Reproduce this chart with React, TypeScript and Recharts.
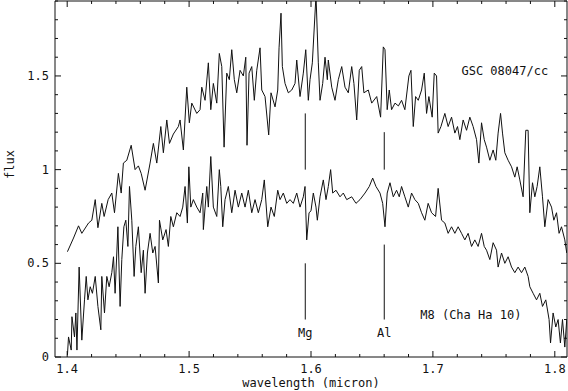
import React from "react";
import { LineChart, Line, XAxis, YAxis, ReferenceLine, ReferenceDot } from "recharts";

// GSC 08047/cc (upper spectrum)
const gscWave = [
  1.4002, 1.4052, 1.4093, 1.412, 1.4175, 1.4202, 1.423, 1.4252, 1.4284, 1.4303, 1.4336, 1.4366, 1.4388, 1.442,
  1.4443, 1.4461, 1.4489, 1.4525, 1.4557, 1.4584, 1.4607, 1.4639, 1.468, 1.4707, 1.4735, 1.4768, 1.4789, 1.4817,
  1.4839, 1.4871, 1.4912, 1.4926, 1.4953, 1.4981, 1.5002, 1.5022, 1.5063, 1.509, 1.5104, 1.5131, 1.5158, 1.5178,
  1.5199, 1.5227, 1.5248, 1.5268, 1.5287, 1.5309, 1.533, 1.535, 1.5371, 1.5391, 1.5418, 1.5445, 1.5465, 1.5475,
  1.5492, 1.5514, 1.5535, 1.5555, 1.5582, 1.5596, 1.5623, 1.5653, 1.5672, 1.5705, 1.5727, 1.5738, 1.5754, 1.5765,
  1.5787, 1.5814, 1.5842, 1.5869, 1.5883, 1.591, 1.5937, 1.5957, 1.5978, 1.5992, 1.6011, 1.6041, 1.606, 1.6074,
  1.6096, 1.6115, 1.6134, 1.6142, 1.617, 1.6197, 1.6224, 1.6252, 1.6279, 1.6306, 1.6334, 1.6352, 1.6375, 1.6396,
  1.6416, 1.6434, 1.647, 1.6498, 1.6539, 1.6571, 1.6593, 1.6607, 1.6625, 1.6642, 1.6661, 1.6689, 1.6717, 1.6743,
  1.677, 1.6803, 1.682, 1.6839, 1.6858, 1.688, 1.6907, 1.6929, 1.6948, 1.6967, 1.6994, 1.7011, 1.703, 1.7043,
  1.7066, 1.7098, 1.7125, 1.7153, 1.718, 1.7202, 1.7221, 1.7248, 1.7276, 1.7303, 1.733, 1.7358, 1.7377, 1.7399,
  1.7421, 1.744, 1.7467, 1.7494, 1.7516, 1.7535, 1.7555, 1.7571, 1.759, 1.7617, 1.7645, 1.7672, 1.7691, 1.7713,
  1.774, 1.7762, 1.7781, 1.7795, 1.7817, 1.7836, 1.7855, 1.7877, 1.7899, 1.7918, 1.7945, 1.7973, 1.7992, 1.8014,
  1.8035, 1.8055, 1.8082, 1.8098,
];
const gscFlux = [
  0.562, 0.635, 0.7, 0.66, 0.715, 0.73, 0.84, 0.69, 0.82, 0.75, 0.84, 0.875, 0.77, 0.98,
  0.875, 1.035, 1.05, 1.13, 1.0, 1.02, 0.98, 0.89, 1.035, 1.14, 1.035, 1.23, 1.09, 1.265,
  1.14, 1.19, 1.23, 1.265, 1.105, 1.44, 1.25, 1.355, 1.3, 1.32, 1.44, 1.37, 1.57, 1.32,
  1.46, 1.355, 1.62, 1.55, 1.12, 1.515, 1.48, 1.64, 1.48, 1.41, 1.53, 1.5, 1.6, 1.13,
  1.515, 1.55, 1.37, 1.53, 1.65, 1.425, 1.39, 1.185, 1.41, 1.335, 1.425, 1.65, 1.835, 1.55,
  1.46, 1.41, 1.425, 1.46, 1.585, 1.39, 1.515, 1.64, 1.37, 1.48, 1.57, 1.93, 1.57, 1.37,
  1.46, 1.6, 1.48, 1.585, 1.44, 1.37, 1.48, 1.55, 1.44, 1.41, 1.55, 1.46, 1.265, 1.53,
  1.55, 1.41, 1.425, 1.355, 1.39, 1.28, 1.655, 1.64, 1.32, 1.425, 1.32, 1.355, 1.34, 1.37,
  1.32, 1.5, 1.53, 1.23, 1.39, 1.37, 1.425, 1.515, 1.3, 1.39, 1.28, 1.515, 1.5, 1.195,
  1.23, 1.3, 1.23, 1.28, 1.195, 1.23, 1.16, 1.265, 1.21, 1.28, 1.23, 1.16, 1.035, 1.25,
  1.16, 1.12, 1.05, 1.105, 1.05, 1.195, 1.3, 1.195, 1.09, 1.05, 1.015, 0.96, 1.015, 0.945,
  0.855, 1.21, 1.21, 0.77, 0.93, 0.855, 0.91, 1.015, 0.855, 0.695, 0.84, 0.8, 0.73, 0.77,
  0.66, 0.695, 0.625, 0.555,
];

// M8 (Cha Ha 10) (lower spectrum)
const chaWave = [
  1.4002, 1.4011, 1.4033, 1.4039, 1.406, 1.4071, 1.408, 1.4098, 1.412, 1.4142, 1.4156, 1.417, 1.4189, 1.4207,
  1.423, 1.4252, 1.4276, 1.4284, 1.4306, 1.4325, 1.4344, 1.4366, 1.438, 1.4393, 1.4416, 1.4434, 1.4448, 1.4465,
  1.4481, 1.4498, 1.4511, 1.453, 1.4549, 1.4563, 1.4584, 1.4607, 1.4625, 1.4639, 1.4658, 1.468, 1.4702, 1.4721,
  1.4748, 1.4757, 1.4784, 1.4811, 1.483, 1.485, 1.4871, 1.4899, 1.4926, 1.4948, 1.4967, 1.4986, 1.4998, 1.5014,
  1.5035, 1.5063, 1.509, 1.5112, 1.5117, 1.5145, 1.5158, 1.5178, 1.5199, 1.5227, 1.5248, 1.526, 1.5276, 1.5295,
  1.5322, 1.535, 1.5377, 1.5404, 1.5432, 1.5459, 1.5486, 1.5514, 1.5541, 1.5568, 1.5596, 1.5617, 1.5645, 1.5672,
  1.5699, 1.5727, 1.5746, 1.5773, 1.5801, 1.5828, 1.5855, 1.5883, 1.591, 1.5937, 1.5951, 1.5965, 1.5984, 1.6,
  1.6019, 1.6041, 1.6052, 1.6074, 1.6101, 1.6123, 1.6142, 1.6161, 1.6178, 1.6205, 1.6238, 1.6265, 1.6293, 1.6334,
  1.6369, 1.6402, 1.6443, 1.6478, 1.6506, 1.6533, 1.6566, 1.6588, 1.6607, 1.6625, 1.6648, 1.6675, 1.6702, 1.6724,
  1.6743, 1.677, 1.6798, 1.6825, 1.6852, 1.688, 1.6907, 1.6934, 1.6961, 1.6989, 1.7022, 1.7043, 1.7071, 1.7098,
  1.7125, 1.7153, 1.718, 1.7207, 1.7235, 1.7262, 1.7289, 1.7317, 1.7344, 1.7371, 1.7399, 1.7421, 1.744, 1.7467,
  1.7494, 1.7522, 1.7535, 1.7563, 1.759, 1.7617, 1.7645, 1.7672, 1.7699, 1.7727, 1.7754, 1.7781, 1.7795, 1.7822,
  1.785, 1.7877, 1.7899, 1.7926, 1.7953, 1.7965, 1.7986, 1.8008, 1.8027, 1.8046, 1.8063, 1.8082, 1.8098,
];
const chaFlux = [
  0.01, 0.107, 0.037, 0.215, 0.107, 0.235, 0.037, 0.48, 0.09, 0.305, 0.43, 0.305, 0.375, 0.34,
  0.43, 0.27, 0.145, 0.43, 0.235, 0.43, 0.375, 0.45, 0.535, 0.34, 0.695, 0.27, 0.52, 0.695,
  0.73, 0.59, 0.91, 0.73, 0.43, 0.59, 0.695, 0.45, 0.57, 0.34, 0.555, 0.66, 0.555, 0.59,
  0.395, 0.73, 0.625, 0.68, 0.59, 0.75, 0.695, 0.77, 0.75, 0.8, 0.91, 0.715, 1.015, 0.8,
  0.84, 0.8, 0.77, 0.875, 0.68, 0.91, 0.8, 1.07, 0.8, 0.75, 1.0, 0.91, 0.695, 0.84,
  0.91, 0.77, 0.89, 0.8, 0.875, 0.8, 0.89, 0.77, 0.84, 0.77, 0.84, 0.945, 0.695, 0.8,
  0.75, 0.89, 0.84, 0.875, 0.82, 0.84, 0.82, 0.875, 0.8, 0.855, 0.91, 0.625, 0.77, 0.78,
  0.875, 0.8, 0.73, 0.855, 0.945, 0.84, 0.91, 1.0, 0.875, 0.89, 0.855, 0.875, 0.84, 0.855,
  0.82, 0.84, 0.875, 0.91, 0.955, 0.91, 0.875, 0.82, 0.695, 0.875, 0.93, 0.855, 0.89, 0.855,
  0.91, 0.855, 0.8, 0.875, 0.84, 0.82, 0.77, 0.73, 0.82, 0.77, 0.75, 0.9, 0.73, 0.715,
  0.66, 0.695, 0.66, 0.695, 0.66, 0.625, 0.66, 0.59, 0.625, 0.59, 0.66, 0.59, 0.57, 0.52,
  0.61, 0.57, 0.48, 0.555, 0.5, 0.535, 0.48, 0.45, 0.48, 0.45, 0.48, 0.43, 0.375, 0.34,
  0.305, 0.34, 0.27, 0.305, 0.2, 0.075, 0.235, 0.16, 0.2, 0.075, 0.2, 0.053, 0.2,
];

const xTicks = [
  1.4, 1.42, 1.44, 1.46, 1.48, 1.5, 1.52, 1.54, 1.56, 1.58, 1.6, 1.62, 1.64, 1.66, 1.68, 1.7, 1.72, 1.74, 1.76,
  1.78, 1.8,
];
const yTicks = [0, 0.1, 0.2, 0.3, 0.4, 0.5, 0.6, 0.7, 0.8, 0.9, 1, 1.1, 1.2, 1.3, 1.4, 1.5, 1.6, 1.7, 1.8, 1.9];

const lineMarks = [
  { name: "Mg", wave: 1.5953, upper: [1.3, 1.0], lower: [0.5, 0.2] },
  { name: "Al", wave: 1.6601, upper: [1.2, 1.0], lower: [0.6, 0.2] },
];

const gscData = gscWave.map((w, i) => ({ wave: w, flux: gscFlux[i] }));
const chaData = chaWave.map((w, i) => ({ wave: w, flux: chaFlux[i] }));

const FONT = "'DejaVu Sans Mono', monospace";
const INK = "#111";

const isMajorX = (v: number) => Math.abs(v * 10 - Math.round(v * 10)) < 1e-6;
const isMajorY = (v: number) => Math.abs(v * 2 - Math.round(v * 2)) < 1e-6;

// ticks point into the frame, as in the original plot
const BottomTick = (props: any) => {
  const x = Number(props.x);
  const y = Number(props.y);
  const major = isMajorX(props.payload.value);
  return (
    <g>
      <path d={`M${x},${y}V${y - (major ? 6 : 3)}`} stroke={INK} strokeWidth={1} fill="none" />
      {major && (
        <text x={x} y={y + 16} textAnchor="middle" fontFamily={FONT} fontSize={12} fill={INK}>
          {props.payload.value.toFixed(1)}
        </text>
      )}
    </g>
  );
};

const TopTick = (props: any) => {
  const x = Number(props.x);
  const y = Number(props.y);
  const major = isMajorX(props.payload.value);
  return <path d={`M${x},${y}V${y + (major ? 6 : 3)}`} stroke={INK} strokeWidth={1} fill="none" />;
};

const LeftTick = (props: any) => {
  const x = Number(props.x);
  const y = Number(props.y);
  const v = props.payload.value;
  const major = isMajorY(v);
  return (
    <g>
      <path d={`M${x},${y}H${x + (major ? 6 : 3)}`} stroke={INK} strokeWidth={1} fill="none" />
      {major && (
        <text x={x - 6} y={y + 4} textAnchor="end" fontFamily={FONT} fontSize={12} fill={INK}>
          {String(v)}
        </text>
      )}
    </g>
  );
};

const RightTick = (props: any) => {
  const x = Number(props.x);
  const y = Number(props.y);
  const major = isMajorY(props.payload.value);
  return <path d={`M${x},${y}H${x - (major ? 6 : 3)}`} stroke={INK} strokeWidth={1} fill="none" />;
};

const textLabel = (value: string) => ({
  value,
  position: "center" as const,
  fontFamily: FONT,
  fontSize: 12,
  fill: INK,
});

export default function App() {
  return (
    <div style={{ position: "absolute", left: 0, top: 0, background: "#fff" }}>
      <LineChart width={568} height={391} margin={{ top: 0, right: 0, left: 0, bottom: 0 }}>
        <XAxis
          dataKey="wave"
          type="number"
          domain={[1.39, 1.81]}
          allowDataOverflow
          ticks={xTicks}
          interval={0}
          tickSize={0}
          tickMargin={0}
          height={34}
          axisLine={{ stroke: INK }}
          tickLine={false}
          tick={BottomTick}
          label={{ value: "wavelength (micron)", position: "insideBottom", offset: 4, fontFamily: FONT, fontSize: 12, fill: INK }}
        />
        <XAxis
          xAxisId="top"
          dataKey="wave"
          orientation="top"
          type="number"
          domain={[1.39, 1.81]}
          allowDataOverflow
          ticks={xTicks}
          interval={0}
          tickSize={0}
          tickMargin={0}
          height={1}
          axisLine={{ stroke: INK }}
          tickLine={false}
          tick={TopTick}
        />
        <YAxis
          type="number"
          domain={[0, 1.9]}
          allowDataOverflow
          ticks={yTicks}
          interval={0}
          tickSize={0}
          tickMargin={0}
          width={55}
          axisLine={{ stroke: INK }}
          tickLine={false}
          tick={LeftTick}
          label={{ value: "flux", angle: -90, position: "insideLeft", offset: 10, fontFamily: FONT, fontSize: 12, fill: INK }}
        />
        <YAxis
          yAxisId="right"
          orientation="right"
          type="number"
          domain={[0, 1.9]}
          allowDataOverflow
          ticks={yTicks}
          interval={0}
          tickSize={0}
          tickMargin={0}
          width={1}
          axisLine={{ stroke: INK }}
          tickLine={false}
          tick={RightTick}
        />
        <Line data={gscData} dataKey="flux" stroke={INK} strokeWidth={1} dot={false} isAnimationActive={false} type="linear" />
        <Line data={chaData} dataKey="flux" stroke={INK} strokeWidth={1} dot={false} isAnimationActive={false} type="linear" />
        {/* invisible copy so the top / right frame axes get drawn */}
        <Line
          data={chaData}
          dataKey="flux"
          xAxisId="top"
          yAxisId="right"
          stroke="none"
          dot={false}
          activeDot={false}
          isAnimationActive={false}
        />
        {lineMarks.map((m) => (
          <ReferenceLine
            key={m.name + "u"}
            segment={[{ x: m.wave, y: m.upper[0] }, { x: m.wave, y: m.upper[1] }]}
            stroke={INK}
          />
        ))}
        {lineMarks.map((m) => (
          <ReferenceLine
            key={m.name + "l"}
            segment={[{ x: m.wave, y: m.lower[0] }, { x: m.wave, y: m.lower[1] }]}
            stroke={INK}
          />
        ))}
        {lineMarks.map((m) => (
          <ReferenceDot key={m.name + "t"} x={m.wave} y={0.128} r={0} fill="none" stroke="none" label={textLabel(m.name)} />
        ))}
        <ReferenceDot x={1.759} y={1.527} r={0} fill="none" stroke="none" label={textLabel("GSC 08047/cc")} />
        <ReferenceDot x={1.7311} y={0.224} r={0} fill="none" stroke="none" label={textLabel("M8 (Cha Ha 10)")} />
      </LineChart>
    </div>
  );
}
